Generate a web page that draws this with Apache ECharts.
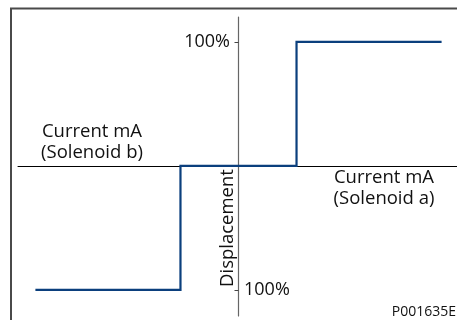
<!DOCTYPE html>
<html>
<head>
<meta charset="utf-8">
<script src="https://cdn.jsdelivr.net/npm/echarts@6/dist/echarts.min.js"></script>
<style>
  html, body { margin: 0; padding: 0; background: #fff; }
</style>
</head>
<body>
<div id="chart-main" style="width: 457px; height: 320px;"></div>

<script type="text/javascript">
	// 电流 (mA, 任意单位) 与位移 (%)
	var currentValues = [-7, -2, -2, 2, 2, 7];
	var displacementValues = [-100, -100, 0, 0, 100, 100];
	var tickValues = [100, -100];
	var tickLabels = ['100%', '100%'];

	var lineColor = '#0b3f7d';
	var font = '"Open Sans", sans-serif';

	var myChart = echarts.init(document.getElementById('chart-main'));

	var points = [];
	for (var i = 0; i < currentValues.length; i++) {
		points.push([currentValues[i], displacementValues[i]]);
	}

	var option = {
		animation: false,
		grid: { left: 18, top: 17, width: 441, height: 299, outerBoundsMode: 'none', containLabel: false },
		xAxis: {
			type: 'value',
			min: -7.6, max: 7.6,
			axisLine: { onZero: true, lineStyle: { color: '#000', width: 1 } },
			axisTick: { show: false },
			axisLabel: { show: false },
			splitLine: { show: false }
		},
		yAxis: {
			type: 'value',
			min: -121, max: 120,
			axisLine: { show: true, onZero: true, lineStyle: { color: '#666', width: 1.2 } },
			axisTick: { show: true, length: 4, customValues: tickValues, lineStyle: { color: '#444' } },
			axisLabel: { show: false },
			splitLine: { show: false }
		},
		graphic: [
			{
				type: 'rect', silent: true,
				shape: { x: 11, y: 8.5, width: 470, height: 330 },
				style: { fill: 'none', stroke: '#4a4a4a', lineWidth: 2 }
			},
			{
				type: 'text', silent: true, x: 230, y: 42,
				style: { text: tickLabels[0], textAlign: 'right', textVerticalAlign: 'middle', fill: '#111', fontSize: 18, fontFamily: font }
			},
			{
				type: 'text', silent: true, x: 244, y: 290,
				style: { text: tickLabels[1], textAlign: 'left', textVerticalAlign: 'middle', fill: '#111', fontSize: 18, fontFamily: font }
			},
			{
				type: 'text', silent: true, x: 92, y: 142,
				style: { text: 'Current mA\n(Solenoid b)', textAlign: 'center', textVerticalAlign: 'middle', fill: '#111', fontSize: 18.5, lineHeight: 21, fontFamily: font }
			},
			{
				type: 'text', silent: true, x: 384, y: 188,
				style: { text: 'Current mA\n(Solenoid a)', textAlign: 'center', textVerticalAlign: 'middle', fill: '#111', fontSize: 18.5, lineHeight: 21, fontFamily: font }
			},
			{
				type: 'text', silent: true,
				x: 228, y: 228, rotation: Math.PI / 2,
				style: { text: 'Displacement', textAlign: 'center', textVerticalAlign: 'middle', fill: '#111', fontSize: 18.5, fontFamily: font }
			},
			{
				type: 'text', silent: true,
				x: 456, y: 312,
				style: { text: 'P001635E', textAlign: 'right', textVerticalAlign: 'middle', fill: '#111', fontSize: 14, fontFamily: font }
			}
		],
		series: [
			{
				type: 'line',
				data: points,
				symbol: 'none',
				lineStyle: { color: lineColor, width: 2.2, join: 'miter' },
				silent: true
			}
		]
	};

	myChart.setOption(option);
</script>
</body>
</html>
